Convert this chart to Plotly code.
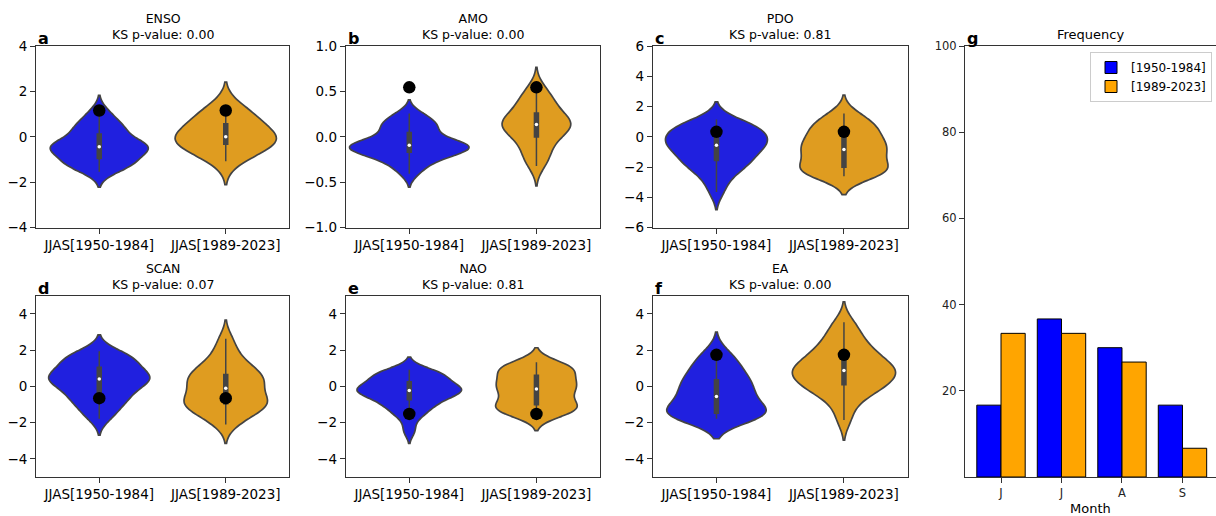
import numpy as np
import plotly.graph_objects as go

# ---------------- data ----------------
groups = ["JJAS[1950-1984]", "JJAS[1989-2023]"]
indices = ["ENSO", "AMO", "PDO", "SCAN", "NAO", "EA"]
ks_pvalues = ["0.00", "0.00", "0.81", "0.07", "0.81", "0.00"]
panel_letters = ["a", "b", "c", "d", "e", "f"]
value_2023 = [1.16, 0.545, 0.33, -0.65, -1.52, 1.74]

enso_early = [-1.54, -1.40, -1.28, -1.18, -1.10, -1.04, -0.99, -0.80, -0.66, -0.58, -0.52, -0.48, -0.44,
              -0.41, -0.37, -0.32, -0.24, -0.10, 0.16, 0.24, 0.34, 0.47, 0.63, 0.85, 1.15]
enso_late = [-1.07, -0.85, -0.70, -0.58, -0.48, -0.41, -0.36, -0.28, -0.20, -0.13, -0.08, -0.04, 0.00,
             0.05, 0.11, 0.19, 0.30, 0.45, 0.61, 0.72, 0.85, 0.98, 1.10, 1.16, 1.37]
amo_early = [-0.405, -0.33, -0.28, -0.24, -0.21, -0.19, -0.177, -0.16, -0.14, -0.125, -0.115, -0.10, -0.092,
             -0.085, -0.075, -0.06, -0.04, -0.01, 0.055, 0.08, 0.105, 0.135, 0.17, 0.21, 0.258]
amo_late = [-0.32, -0.26, -0.21, -0.15, -0.09, -0.04, -0.01, 0.03, 0.06, 0.09, 0.11, 0.125, 0.136,
            0.15, 0.165, 0.18, 0.20, 0.23, 0.27, 0.31, 0.35, 0.39, 0.43, 0.48, 0.545]
pdo_early = [-3.65, -2.90, -2.45, -2.10, -1.85, -1.72, -1.61, -1.35, -1.12, -0.95, -0.80, -0.66, -0.55,
             -0.42, -0.30, -0.18, -0.06, 0.08, 0.25, 0.38, 0.50, 0.62, 0.78, 0.95, 1.15]
pdo_late = [-2.61, -2.50, -2.40, -2.30, -2.22, -2.14, -2.06, -1.80, -1.55, -1.35, -1.15, -1.00, -0.84,
            -0.70, -0.56, -0.42, -0.28, -0.10, 0.30, 0.33, 0.55, 0.75, 0.95, 1.20, 1.55]
scan_early = [-1.79, -1.45, -1.15, -0.90, -0.70, -0.55, -0.40, -0.20, -0.02, 0.12, 0.24, 0.33, 0.41,
              0.48, 0.55, 0.63, 0.75, 0.90, 1.09, 1.22, 1.36, 1.50, 1.64, 1.78, 1.94]
scan_late = [-2.10, -1.75, -1.50, -1.32, -1.18, -1.08, -1.00, -0.88, -0.78, -0.65, -0.55, -0.35, -0.10,
             0.05, 0.18, 0.30, 0.42, 0.55, 0.69, 0.85, 1.02, 1.25, 1.55, 2.00, 2.62]
nao_early = [-2.45, -1.75, -1.45, -1.22, -1.05, -0.90, -0.78, -0.62, -0.50, -0.40, -0.32, -0.27, -0.23,
             -0.18, -0.12, -0.06, 0.03, 0.15, 0.30, 0.42, 0.52, 0.62, 0.72, 0.82, 0.91]
nao_late = [-1.64, -1.52, -1.40, -1.28, -1.18, -1.12, -1.06, -0.90, -0.72, -0.55, -0.40, -0.26, -0.14,
            -0.02, 0.10, 0.20, 0.30, 0.45, 0.65, 0.78, 0.90, 1.00, 1.10, 1.20, 1.33]
ea_early = [-1.79, -1.72, -1.66, -1.62, -1.58, -1.55, -1.52, -1.35, -1.20, -1.05, -0.90, -0.72, -0.56,
            -0.40, -0.22, -0.08, 0.08, 0.24, 0.41, 0.60, 0.80, 1.05, 1.30, 1.60, 1.89]
ea_late = [-1.85, -1.10, -0.60, -0.30, -0.12, -0.02, 0.05, 0.25, 0.42, 0.56, 0.68, 0.78, 0.87,
           0.96, 1.06, 1.18, 1.32, 1.50, 1.74, 1.90, 2.10, 2.35, 2.70, 3.10, 3.54]

early_series = [enso_early, amo_early, pdo_early, scan_early, nao_early, ea_early]
late_series = [enso_late, amo_late, pdo_late, scan_late, nao_late, ea_late]

months = ["J", "J", "A", "S"]
freq_early = [16.67, 36.67, 30.00, 16.67]
freq_late = [33.33, 33.33, 26.67, 6.67]
bar_labels = ["[1950-1984]", "[1989-2023]"]

# ---------------- style ----------------
W, H = 1216, 516
col_x = [(36, 289), (345.7, 600), (652.7, 907.7)]
row_y = [(46, 227.7), (295.7, 477)]
y_ranges = [(-4, 4), (-1, 1), (-6, 6), (-5, 5), (-5, 5), (-5, 5)]
y_dticks = [2, 0.5, 2, 2, 2, 2]
y_formats = ["", ".1f", "", "", "", ""]
bandwidths = [(0.34, 0.52), (0.074, 0.11), (0.58, 0.60), (0.45, 0.52), (0.35, 0.40), (0.55, 0.56)]
widths = [(0.775, 0.80), (0.94, 0.54), (0.80, 0.69), (0.80, 0.66), (0.82, 0.64), (0.78, 0.81)]
violin_colors = ["#2020df", "#df9c20"]
edge = "#444444"
FONT = "DejaVu Sans"


def px_to_x(px):
    return px / W


def px_to_y(py):
    return 1 - py / H


fig = go.Figure()
annotations = []

for i in range(6):
    r, c = divmod(i, 3)
    ax = "" if i == 0 else str(i + 1)
    xref, yref = "x" + ax, "y" + ax
    x0, x1 = col_x[c]
    yt, yb = row_y[r]
    for g, series in enumerate([early_series[i], late_series[i]]):
        vals = np.array(series, dtype=float)
        cat = groups[g]
        fig.add_trace(go.Violin(
            x=[cat] * len(vals), y=vals, xaxis=xref, yaxis=yref,
            width=widths[i][g], scalemode="width", bandwidth=bandwidths[i][g],
            spanmode="soft", points=False, box_visible=False, meanline_visible=False,
            fillcolor=violin_colors[g], opacity=1,
            line=dict(color=edge, width=1.7), showlegend=False, hoverinfo="skip"))
        q1, med, q3 = np.percentile(vals, [25, 50, 75])
        iqr = q3 - q1
        lo = vals[vals >= q1 - 1.5 * iqr].min()
        hi = vals[vals <= q3 + 1.5 * iqr].max()
        fig.add_trace(go.Scatter(x=[cat, cat], y=[lo, hi], xaxis=xref, yaxis=yref, mode="lines",
                                 line=dict(color=edge, width=1.5), showlegend=False, hoverinfo="skip"))
        fig.add_trace(go.Scatter(x=[cat, cat], y=[q1, q3], xaxis=xref, yaxis=yref, mode="lines",
                                 line=dict(color=edge, width=5.5), showlegend=False, hoverinfo="skip"))
        fig.add_trace(go.Scatter(x=[cat], y=[med], xaxis=xref, yaxis=yref, mode="markers",
                                 marker=dict(color="white", size=3.5), showlegend=False, hoverinfo="skip"))
    fig.add_trace(go.Scatter(x=groups, y=[value_2023[i]] * 2, xaxis=xref, yaxis=yref, mode="markers",
                             marker=dict(color="black", size=12.5), showlegend=False, hoverinfo="skip"))

    fig.layout["xaxis" + ax] = dict(
        domain=[px_to_x(x0), px_to_x(x1)], anchor=yref, type="category",
        categoryorder="array", categoryarray=groups, range=[-0.5, 1.5],
        showline=True, mirror=True, linecolor="#333333", linewidth=1, automargin=False,
        ticks="outside", ticklen=5, tickcolor="#333333", showgrid=False, zeroline=False,
        tickfont=dict(size=13.5, color="black", family=FONT), fixedrange=True)
    fig.layout["yaxis" + ax] = dict(
        domain=[px_to_y(yb), px_to_y(yt)], anchor=xref, range=list(y_ranges[i]),
        dtick=y_dticks[i], tick0=0, tickformat=y_formats[i], automargin=False,
        showline=True, mirror=True, linecolor="#333333", linewidth=1,
        ticks="outside", ticklen=5, tickcolor="#333333", showgrid=False, zeroline=False,
        tickfont=dict(size=13.5, color="black", family=FONT), fixedrange=True)

    annotations.append(dict(
        text=f"{indices[i]}<br>KS p-value: {ks_pvalues[i]}", xref="paper", yref="paper",
        x=px_to_x((x0 + x1) / 2), y=px_to_y(yt), xanchor="center", yanchor="bottom",
        yshift=2, showarrow=False, font=dict(size=12.5, color="black", family=FONT)))
    annotations.append(dict(
        text=f"<b>{panel_letters[i]}</b>", xref="paper", yref="paper",
        x=px_to_x(x0), y=px_to_y(yt), xanchor="left", yanchor="bottom", yshift=-4,
        showarrow=False, font=dict(size=16, color="black", family=FONT)))

# ---------------- bar panel g ----------------
gx0, gx1 = 965, 1216
fig.add_trace(go.Bar(x=list(range(4)), y=freq_early, offset=-0.4, width=0.4, name=bar_labels[0],
                     marker=dict(color="#0000ff", line=dict(color="black", width=1)),
                     xaxis="x7", yaxis="y7"))
fig.add_trace(go.Bar(x=list(range(4)), y=freq_late, offset=0.0, width=0.4, name=bar_labels[1],
                     marker=dict(color="#ffa500", line=dict(color="black", width=1)),
                     xaxis="x7", yaxis="y7"))
fig.layout["xaxis7"] = dict(
    domain=[px_to_x(gx0), 1.0], anchor="y7", range=[-0.595, 3.554],
    tickvals=list(range(4)), ticktext=months, showline=True, mirror=True, automargin=False,
    linecolor="#333333", linewidth=1, ticks="outside", ticklen=5, tickcolor="#333333",
    showgrid=False, zeroline=False, tickfont=dict(size=11.5, color="#222222", family=FONT),
    fixedrange=True)
fig.layout["yaxis7"] = dict(
    domain=[px_to_y(477), px_to_y(46)], anchor="x7", range=[0, 100],
    tickvals=[20, 40, 60, 80, 100], showline=True, mirror=False, automargin=False,
    linecolor="#333333", linewidth=1, ticks="outside", ticklen=5, tickcolor="#333333",
    showgrid=False, zeroline=False, tickfont=dict(size=11.5, color="#222222", family=FONT),
    fixedrange=True)
annotations.append(dict(
    text="Month", xref="paper", yref="paper", x=px_to_x((gx0 + gx1) / 2), y=px_to_y(508),
    xanchor="center", yanchor="middle", showarrow=False,
    font=dict(size=13, color="black", family=FONT)))
annotations.append(dict(
    text="Frequency", xref="paper", yref="paper", x=px_to_x((gx0 + gx1) / 2), y=px_to_y(46),
    xanchor="center", yanchor="bottom", yshift=2, showarrow=False,
    font=dict(size=13, color="black", family=FONT)))
annotations.append(dict(
    text="<b>g</b>", xref="paper", yref="paper", x=px_to_x(gx0), y=px_to_y(46),
    xanchor="left", yanchor="bottom", yshift=-4, showarrow=False,
    font=dict(size=16, color="black", family=FONT)))

fig.update_layout(
    width=W, height=H, margin=dict(l=0, r=0, t=0, b=0, autoexpand=False),
    paper_bgcolor="white", plot_bgcolor="white",
    font=dict(family=FONT, color="black"),
    violinmode="overlay", barmode="overlay",
    annotations=annotations,
    legend=dict(x=px_to_x(1212), y=px_to_y(52), xanchor="right", yanchor="top",
                bgcolor="rgba(255,255,255,0.9)", bordercolor="#cccccc", borderwidth=1,
                font=dict(size=12, color="black", family=FONT), tracegroupgap=2),
)

fig.write_html("out.html", config={"displayModeBar": False},
               post_script="document.body.style.margin='0';document.body.style.overflow='hidden';")
